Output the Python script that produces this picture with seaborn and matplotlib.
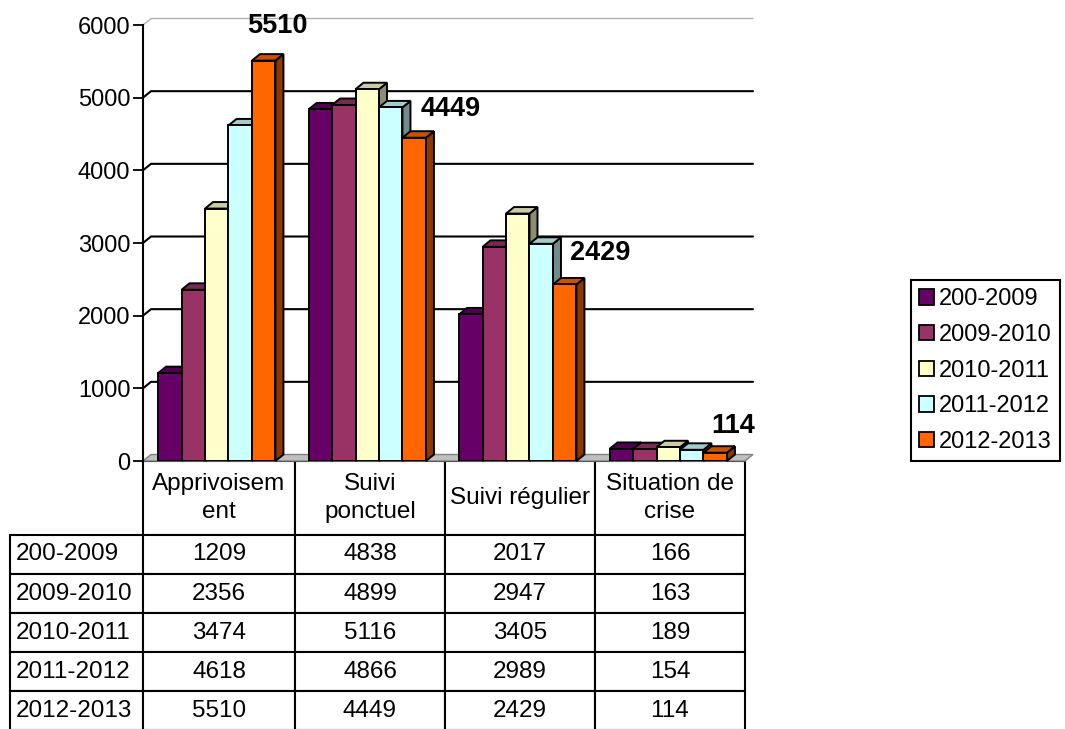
import matplotlib
matplotlib.use("Agg")
import numpy as np
import pandas as pd
import matplotlib.pyplot as plt
import matplotlib.colors as mcolors
from matplotlib.patches import Polygon, Patch
from matplotlib.table import Table
import seaborn as sns

# ---- data -------------------------------------------------------------
categories = ["Apprivoisement", "Suivi ponctuel", "Suivi régulier", "Situation de crise"]
header_labels = ["Apprivoisem\nent", "Suivi\nponctuel", "Suivi régulier", "Situation de\ncrise"]
seasons = ["200-2009", "2009-2010", "2010-2011", "2011-2012", "2012-2013"]

values_2009 = [1209, 4838, 2017, 166]
values_2010 = [2356, 4899, 2947, 163]
values_2011 = [3474, 5116, 3405, 189]
values_2012 = [4618, 4866, 2989, 154]
values_2013 = [5510, 4449, 2429, 114]

y_ticks = [0, 1000, 2000, 3000, 4000, 5000, 6000]

# ---- style --------------------------------------------------------------
season_colors = ["#660066", "#993366", "#FFFFCC", "#CCFFFF", "#FF6600"]
TOP_SHADE = 0.8
SIDE_SHADE = 0.55
DEPTH_PX = (8, 6.5)          # oblique depth of the 3D prisms, in pixels
LABEL_NUDGE_PX = [(14, 35), (36, 29), (35, 31), (18, 27)]

sns.set_style("white")
plt.rcParams["font.family"] = ["Liberation Sans", "DejaVu Sans"]
plt.rcParams["text.color"] = "black"
plt.rcParams["ytick.color"] = "black"
plt.rcParams["axes.labelcolor"] = "black"

series = [values_2009, values_2010, values_2011, values_2012, values_2013]
df = pd.DataFrame(
    [(c, s, v) for s, vals in zip(seasons, series) for c, v in zip(categories, vals)],
    columns=["category", "season", "value"],
)

W, H = 1065, 729
fig = plt.figure(figsize=(W / 100, H / 100), dpi=100)
ax_l, ax_r, ax_t, ax_b = 143, 745, 25, 461
ax = fig.add_axes([ax_l / W, 1 - ax_b / H, (ax_r - ax_l) / W, (ax_b - ax_t) / H])

sns.barplot(
    data=df, x="category", y="value", hue="season",
    order=categories, hue_order=seasons, palette=season_colors,
    saturation=1, width=0.78, edgecolor="black", linewidth=1.4,
    legend=False, ax=ax, errorbar=None,
)
bars = sorted(list(ax.patches), key=lambda p: p.get_x())
ax.set_xlim(-0.5, len(categories) - 0.5)
ax.set_ylim(0, 6000)

# pixel -> data conversion for the oblique depth
px_x = (len(categories)) / (ax_r - ax_l)
px_y = 6000 / (ax_b - ax_t)
dx, dy = DEPTH_PX[0] * px_x, DEPTH_PX[1] * px_y

# ---- floor and back-wall gridlines ---------------------------------------
x0, x1 = -0.5, len(categories) - 0.5
floor = Polygon([(x0, 0), (x1, 0), (x1 + dx, dy), (x0 + dx, dy)],
                closed=True, facecolor="#c0c0c0", edgecolor="#808080",
                linewidth=1.0, zorder=1, clip_on=False)
ax.add_patch(floor)
for v in y_ticks[1:]:
    color = "#b0b0b0" if v == y_ticks[-1] else "black"
    lw = 1.0 if v == y_ticks[-1] else 1.5
    ax.plot([x0, x0 + dx, x1 + dx], [v, v + dy, v + dy],
            color=color, linewidth=lw, zorder=0.5, clip_on=False)

# ---- 3D faces on each bar -------------------------------------------------
shift = -1.5 * px_x
for k, p in enumerate(bars):
    p.set_x(p.get_x() + shift)
    bx, bw, bh = p.get_x(), p.get_width(), p.get_height()
    rgb = np.array(mcolors.to_rgb(p.get_facecolor()))
    z = 3 + k * 0.01
    top = Polygon([(bx, bh), (bx + bw, bh), (bx + bw + dx, bh + dy), (bx + dx, bh + dy)],
                  closed=True, facecolor=rgb * TOP_SHADE, edgecolor="black",
                  linewidth=1.4, zorder=z, clip_on=False)
    side = Polygon([(bx + bw, 0), (bx + bw + dx, dy), (bx + bw + dx, bh + dy), (bx + bw, bh)],
                   closed=True, facecolor=rgb * SIDE_SHADE, edgecolor="black",
                   linewidth=1.4, zorder=z, clip_on=False)
    ax.add_patch(side)
    ax.add_patch(top)
    p.set_zorder(z + 0.005)

# ---- value labels on the last season --------------------------------------
last = [p for p in bars if mcolors.to_hex(p.get_facecolor()).lower() == season_colors[-1].lower()]
last = sorted(last, key=lambda p: p.get_x())
for p, v, (nx, ny) in zip(last, values_2013, LABEL_NUDGE_PX):
    ax.annotate(f"{v}", xy=(p.get_x() + p.get_width() / 2, v),
                xytext=(nx, ny), textcoords="offset pixels",
                ha="center", va="center", fontsize=19.5, fontweight="bold",
                family=["Liberation Sans", "DejaVu Sans"], zorder=10,
                annotation_clip=False)

# ---- axes cosmetics --------------------------------------------------------
for s in ["top", "right", "bottom"]:
    ax.spines[s].set_visible(False)
ax.spines["left"].set_color("black")
ax.spines["left"].set_linewidth(1.5)
ax.set_yticks(y_ticks)
ax.set_yticklabels([str(t) for t in y_ticks])
ax.tick_params(axis="y", direction="out", length=7, width=1.3, colors="black",
               labelsize=17, pad=2, left=True)
ax.set_xticks([])
ax.set_xlabel("")
ax.set_ylabel("")
ax.grid(False)

# ---- data table under the plot ----------------------------------------------
tab_left = 10
col_w = [ax_l - tab_left, 152, 150, 150, 150]
head_h, row_h = 74, 39
tab_h = head_h + row_h * len(seasons)
ax_w_px, ax_h_px = ax_r - ax_l, ax_b - ax_t
table = Table(ax, bbox=[-(ax_l - tab_left) / ax_w_px, -tab_h / ax_h_px,
                        sum(col_w) / ax_w_px, tab_h / ax_h_px])
for j, lab in enumerate(header_labels):
    c = table.add_cell(0, j + 1, col_w[j + 1], head_h, text=lab, loc="center",
                       facecolor="white", edgecolor="black")
    c.get_text().set_linespacing(1.35)
for i, (s, vals) in enumerate(zip(seasons, series), start=1):
    c = table.add_cell(i, 0, col_w[0], row_h, text=s, loc="left",
                       facecolor="white", edgecolor="black")
    c.PAD = 0.04
    for j, v in enumerate(vals):
        table.add_cell(i, j + 1, col_w[j + 1], row_h, text=str(v), loc="center",
                       facecolor="white", edgecolor="black")
table.auto_set_font_size(False)
table.set_fontsize(17.5)
for cell in table.get_celld().values():
    cell.set_linewidth(1.5)
    cell.get_text().set_color("black")
table.set_clip_on(False)
ax.add_table(table)

# ---- legend ---------------------------------------------------------------
handles = [Patch(facecolor=c, edgecolor="black", linewidth=1.3) for c in season_colors]
fig.legend(handles, seasons, loc="upper left",
           bbox_to_anchor=(911 / W, 1 - 280 / H), bbox_transform=fig.transFigure,
           frameon=True, fancybox=False, edgecolor="black", framealpha=1,
           fontsize=17, handlelength=0.62, handleheight=0.62, handletextpad=0.2,
           labelspacing=0.58, borderpad=0.35, borderaxespad=0)
fig.legends[0].get_frame().set_linewidth(1.5)

fig.savefig("out.png", dpi=100)
